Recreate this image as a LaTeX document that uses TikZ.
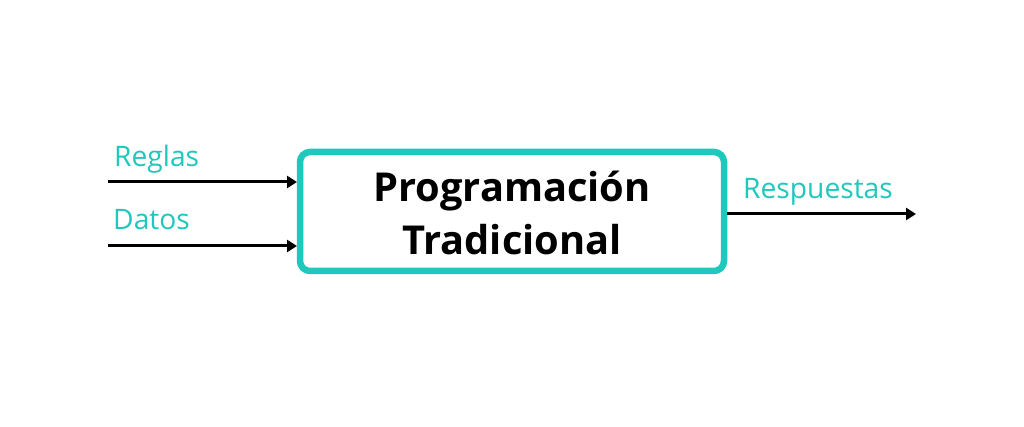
\documentclass[tikz,border=0pt]{standalone}
\usepackage{fontspec}
\setmainfont{Open Sans}
\usetikzlibrary{arrows.meta}
\definecolor{teal1}{HTML}{1FC8BC}
\tikzset{
  lbl/.style={anchor=base west, inner sep=0pt, text=teal1, font=\fontsize{28.2}{33}\selectfont},
  conn/.style={line width=3pt, -{Triangle[length=10pt,width=12pt]}},
  mainbox/.style={draw=teal1, line width=6.5pt, rounded corners=10pt, fill=white},
  maintxt/.style={anchor=base, inner sep=0pt, font=\fontsize{39.8}{47}\bfseries\selectfont}
}
\begin{document}
\begin{tikzpicture}[x=1pt,y=-1pt]
\useasboundingbox (0,0) rectangle (1024,427);
\fill[white] (0,0) rectangle (1024,427);
\draw[mainbox] (300,152) rectangle (724,271);
\coordinate (boxL1) at (297,182);
\coordinate (boxL2) at (297,246);
\coordinate (boxR) at (727,214);
\node[maintxt] (t1) at (512,202) {Programación};
\node[maintxt] (t2) at (512,255) {Tradicional};
\coordinate (s1) at (108,182);
\coordinate (s2) at (108,246);
\coordinate (e3) at (916,214);
\draw[conn] (s1) -- (boxL1);
\draw[conn] (s2) -- (boxL2);
\draw[conn] (boxR) -- (e3);
\node[lbl] (l1) at (114,167) {Reglas};
\node[lbl] (l2) at (113,230) {Datos};
\node[lbl] (l3) at (743,199) {Respuestas};
\end{tikzpicture}
\end{document}
